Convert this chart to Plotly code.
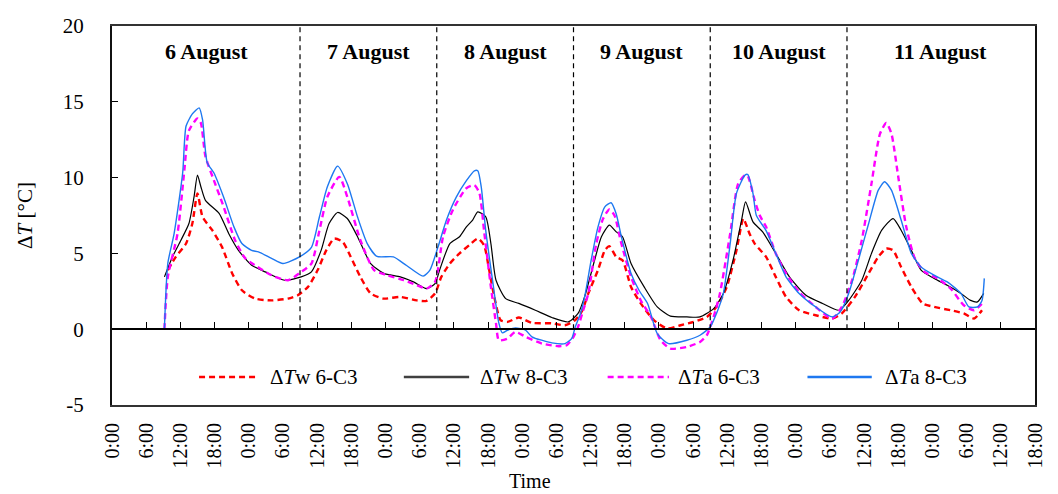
import plotly.graph_objects as go

# Hours counted from 0:00 on 5 August; each analysis day runs 9:00 -> 9:00
hours_tw6 = [9.8, 11.2, 13.0, 14.1, 15.0, 15.9, 17.6, 19.3, 21.1, 22.8, 25.1, 28.0, 30.9, 32.6, 34.4,
             36.1, 37.6, 39.0, 40.5, 41.9, 43.6, 45.4, 47.7, 50.6, 53.5, 55.2, 56.7, 57.8, 59.3, 61.0,
             62.7, 64.2, 65.3, 66.2, 67.1, 68.2, 69.4, 71.4, 73.7, 77.2, 79.5, 81.3, 82.5, 83.6, 85.3,
             86.5, 87.3, 88.5, 89.6, 91.1, 92.8, 95.1, 97.4, 99.8, 102.1, 104.4, 106.1, 107.9, 109.6,
             110.8, 111.3, 111.9, 112.8, 114.8, 116.5, 118.3, 120.6, 123.5, 126.4, 128.1, 130.4, 132.8,
             134.5, 135.9, 137.1, 138.5, 140.3, 142.3, 144.3, 147.2, 149.5, 151.3, 152.7]
dT_w_6C3 = [3.9, 4.77, 5.65, 6.97, 8.96, 7.4, 6.53, 5.43, 3.68, 2.57, 2.02, 1.9, 2.02, 2.24, 2.79,
            3.9, 5.2, 5.98, 5.76, 4.77, 3.45, 2.36, 2.02, 2.13, 1.9, 1.87, 2.36, 3.45, 4.33, 5.0,
            5.54, 5.98, 5.54, 3.9, 2.13, 0.6, 0.48, 0.77, 0.42, 0.39, 0.26, 0.6, 1.2, 2.36, 3.9,
            5.2, 5.48, 4.77, 4.55, 2.79, 1.7, 0.6, 0.05, 0.26, 0.48, 0.81, 1.47, 2.79, 5.2,
            7.3, 6.9, 6.3, 5.65, 4.77, 3.45, 2.13, 1.25, 0.92, 0.7, 1.04, 2.13, 3.68,
            4.77, 5.32, 5.2, 4.1, 2.79, 1.7, 1.47, 1.25, 1.04, 0.7, 1.25]

hours_tw8 = [9.2, 10.6, 12.1, 13.5, 14.4, 15.0, 15.6, 16.4, 18.8, 20.5, 22.2, 24.5, 26.9, 30.3, 33.2,
             35.0, 36.7, 38.1, 39.6, 41.3, 43.1, 45.4, 47.7, 50.6, 52.9, 55.2, 56.7, 57.5, 59.3, 61.0,
             62.2, 63.3, 64.2, 65.6, 66.5, 67.4, 69.1, 71.4, 74.3, 77.2, 80.1, 81.8, 83.0, 84.7, 85.9,
             87.3, 88.5, 89.6, 91.1, 93.4, 95.7, 98.0, 100.9, 103.2, 105.6, 107.3, 109.0, 110.5, 111.2,
             112.5, 114.2, 116.5, 118.9, 121.8, 124.7, 127.6, 129.3, 131.6, 133.3, 135.1, 137.1, 138.5,
             140.3, 142.0, 144.3, 146.6, 149.0, 150.7, 151.9, 153.0]
dT_w_8C3 = [3.45, 4.77, 5.87, 6.97, 8.73, 10.16, 9.4, 8.5, 7.64, 6.3, 5.2, 4.22, 3.78, 3.23, 3.45,
            3.78, 5.2, 6.97, 7.7, 7.3, 6.1, 4.33, 3.68, 3.45, 3.12, 2.68, 3.0, 3.9, 5.65, 6.1,
            6.75, 7.2, 7.74, 7.41, 5.65, 3.23, 2.02, 1.7, 1.25, 0.77, 0.48, 1.04, 2.2, 4.55, 6.1,
            6.87, 6.42, 6.1, 4.33, 2.79, 1.47, 0.86, 0.81, 0.81, 1.36, 2.36, 4.55, 7.2, 8.4,
            7.08, 6.42, 5.0, 3.45, 2.24, 1.7, 1.25, 1.9, 3.23, 5.0, 6.53, 7.3, 6.53,
            5.2, 3.9, 3.35, 2.9, 2.36, 1.9, 1.8, 2.36]

hours_ta6 = [9.2, 9.8, 11.5, 12.7, 13.5, 15.0, 15.6, 16.4, 17.9, 19.6, 21.6, 23.4, 25.1, 28.0, 30.9,
             33.2, 35.0, 36.4, 37.8, 39.9, 41.3, 43.6, 46.0, 48.3, 51.2, 53.5, 55.2, 56.7, 58.1, 59.8,
             62.2, 63.6, 64.5, 65.3, 66.5, 67.4, 67.9, 69.4, 70.8, 72.6, 75.5, 78.4, 79.8, 81.0, 81.8,
             82.7, 83.6, 85.0, 86.2, 87.3, 88.2, 89.4, 91.1, 92.8, 94.6, 96.3, 98.0, 100.9, 103.2,
             104.4, 105.6, 106.7, 108.5, 109.9, 111.1, 111.6, 112.8, 113.7, 114.8, 116.5, 118.3, 120.6,
             123.5, 126.4, 128.1, 129.9, 131.6, 133.3, 134.8, 135.9, 136.8, 138.0, 139.4, 140.9, 142.6,
             144.9, 147.2, 149.5, 151.3, 153.0]
dT_a_6C3 = [0.0, 3.45, 6.3, 10.5, 13.1, 13.9, 13.6, 11.4, 9.8, 8.07, 5.87, 4.67, 4.22, 3.56, 3.23,
            3.78, 4.33, 6.5, 8.73, 10.05, 8.73, 5.87, 3.9, 3.56, 3.23, 2.9, 2.68, 3.12, 6.1, 7.85,
            9.3, 9.5, 8.96, 6.5, 2.79, 0.38, -0.73, -0.62, -0.18, -0.5, -0.95, -1.12, -1.06, -0.5, 0.15,
            1.25, 2.36, 5.65, 7.3, 7.9, 7.5, 5.65, 3.45, 1.9, 0.81, -0.73, -1.28, -1.17, -0.84,
            -0.4, 0.81, 2.36, 6.3, 9.6, 10.16, 10.1, 8.5, 7.5, 6.75, 5.0, 3.68, 2.46,
            1.47, 0.7, 1.47, 3.23, 5.87, 9.6, 12.9, 13.6, 12.9, 10.05, 6.75, 4.67, 3.78,
            3.35, 2.68, 1.58, 1.25, 1.8]

hours_ta8 = [9.2, 9.8, 10.9, 12.4, 13.0, 14.1, 15.3, 15.9, 16.7, 17.9, 19.6, 21.4, 22.8, 24.5, 25.7,
             28.0, 30.0, 32.9, 35.0, 36.4, 37.8, 39.6, 41.3, 43.1, 44.8, 46.5, 49.4, 51.7, 54.6, 55.8,
             57.2, 58.7, 60.4, 62.2, 63.6, 64.2, 64.8, 65.6, 66.8, 67.9, 68.5, 69.4, 70.8, 72.6, 73.7,
             77.2, 79.5, 80.7, 81.3, 82.2, 83.0, 84.1, 85.3, 86.5, 87.6, 88.5, 89.4, 91.1, 92.5,
             94.0, 95.7, 97.7, 100.9, 103.2, 105.0, 106.1, 107.3, 108.5, 109.6, 111.1, 111.6, 112.5,
             113.1, 114.8, 116.5, 118.3, 120.6, 123.5, 126.4, 127.8, 129.3, 131.0, 132.8, 134.5, 135.6,
             136.8, 138.5, 140.3, 142.0, 144.3, 146.6, 149.0, 150.4, 151.9, 152.7, 153.1]
dT_a_8C3 = [0.07, 4.35, 6.3, 10.3, 13.4, 14.2, 14.6, 13.8, 11.0, 10.3, 8.7, 6.75, 5.65, 5.2, 5.1,
            4.67, 4.33, 4.77, 5.4, 7.4, 9.4, 10.76, 9.6, 7.4, 5.65, 4.8, 4.77, 4.2, 3.5, 3.9,
            5.4, 7.2, 8.7, 9.8, 10.45, 10.45, 9.4, 6.5, 3.2, 0.4, -0.24, -0.07, 0.09, -0.07, -0.5,
            -0.9, -0.95, -0.6, 0.15, 1.0, 2.2, 4.55, 6.75, 8.07, 8.34, 7.6, 6.1, 3.68, 2.57,
            1.7, -0.29, -0.95, -0.73, -0.4, 0.15, 1.04, 2.36, 5.65, 8.96, 10.16, 10.2, 8.96,
            7.5, 6.5, 5.0, 3.45, 2.36, 1.47, 0.81, 1.14, 2.36, 4.55, 6.97, 9.17, 9.73,
            9.17, 7.2, 5.0, 4.1, 3.56, 3.12, 2.36, 1.47, 1.47, 1.9, 3.35]

day_labels = ["6 August", "7 August", "8 August", "9 August", "10 August", "11 August"]
day_bounds = [0, 33, 57, 81, 105, 129, 162]          # section edges (hours)
tick_hours = list(range(0, 163, 6))
tick_text = ["0:00", "6:00", "12:00", "18:00"] * 7
y_ticks = [-5, 0, 5, 10, 15, 20]
y_tick_text = ["-5", "0", "5", "10", "15", "20"]

series = [
    ("Δ<i>T</i>w 6-C3", hours_tw6, dT_w_6C3, "#FF0000", 2.4, "6px,4px"),
    ("Δ<i>T</i>w 8-C3", hours_tw8, dT_w_8C3, "#000000", 1.2, "solid"),
    ("Δ<i>T</i>a 6-C3", hours_ta6, dT_a_6C3, "#FF00FF", 2.4, "6px,4px"),
    ("Δ<i>T</i>a 8-C3", hours_ta8, dT_a_8C3, "#1E78F0", 1.4, "solid"),
]

SERIF = "Liberation Serif, Times New Roman, serif"

# plot-area geometry in pixels (used for paper-coordinate placement)
W, H = 1058, 494
L, R, T, B = 112, 13, 26, 89
PW, PH = W - L - R, H - T - B


def px_x(p):
    return (p - L) / PW


def px_y(p):
    return (H - B - p) / PH


fig = go.Figure()
for name, xs, ys, color, width, dash in series:
    fig.add_trace(go.Scatter(
        x=xs, y=ys, mode="lines", name=name, showlegend=False,
        line=dict(color=color, width=width, dash=dash, shape="spline", smoothing=0.6),
        hoverinfo="skip",
    ))

# carrier trace for the zero-line axis
fig.add_trace(go.Scatter(x=[None], y=[None], xaxis="x2", yaxis="y", showlegend=False,
                         hoverinfo="skip"))

shapes = []
# day separators
for xb in day_bounds[1:-1]:
    shapes.append(dict(type="line", xref="x", yref="y", x0=xb, x1=xb, y0=0, y1=20,
                       line=dict(color="#000000", width=1.2, dash="5px,4px")))

annotations = []
for i, lab in enumerate(day_labels):
    annotations.append(dict(
        x=(day_bounds[i] + day_bounds[i + 1]) / 2, y=18.3, xref="x", yref="y",
        text="<b>%s</b>" % lab, showarrow=False,
        font=dict(family=SERIF, size=22, color="#000000"),
    ))

# hand-drawn legend row
legend_slots = [(200, 260, 270), (407, 473, 482), (613, 675, 682), (815, 880, 891)]
legend_y = 377
for (name, _, _, color, width, dash), (lx0, lx1, tx) in zip(series, legend_slots):
    shapes.append(dict(type="line", xref="paper", yref="paper",
                       x0=px_x(lx0), x1=px_x(lx1), y0=px_y(legend_y), y1=px_y(legend_y),
                       line=dict(color=color if color != "#000000" else "#404040",
                                 width=max(width, 2.2) if dash != "solid" else 2.4,
                                 dash=dash)))
    annotations.append(dict(x=px_x(tx), y=px_y(legend_y), xref="paper", yref="paper",
                            xanchor="left", yanchor="middle", text=name, showarrow=False,
                            font=dict(family=SERIF, size=21, color="#000000")))

annotations.append(dict(x=px_x(535), y=px_y(481), xref="paper", yref="paper",
                        xanchor="center", yanchor="middle",
                        text="Time", showarrow=False,
                        font=dict(family=SERIF, size=20, color="#000000")))

fig.update_layout(
    width=W, height=H,
    margin=dict(l=L, r=R, t=T, b=B),
    paper_bgcolor="#FFFFFF", plot_bgcolor="#FFFFFF",
    showlegend=False,
    font=dict(family=SERIF, size=20, color="#000000"),
    xaxis=dict(range=[0, 162], tickmode="array", tickvals=tick_hours, ticktext=tick_text,
               tickangle=-90, ticks="", showgrid=False, zeroline=False,
               showline=True, mirror=True, linecolor="#333333", linewidth=2,
               ticklabelstandoff=8, tickfont=dict(family=SERIF, size=20)),
    xaxis2=dict(range=[0, 162], overlaying="x", anchor="free", position=0.2,
                tickmode="array", tickvals=tick_hours, ticks="inside", ticklen=6,
                tickwidth=1.2, tickcolor="#000000", showticklabels=False,
                showgrid=False, zeroline=False, showline=True, linecolor="#000000",
                linewidth=1.5),
    yaxis=dict(range=[-5, 20], tickmode="array", tickvals=y_ticks, ticktext=y_tick_text,
               ticks="inside", ticklen=6, tickwidth=1.2,
               tickcolor="#000000", showgrid=False, zeroline=False,
               showline=True, mirror=True, linecolor="#111111", linewidth=2,
               ticklabelstandoff=22, tickfont=dict(family=SERIF, size=21),
               title=dict(text="Δ<i>T</i> [°C]", font=dict(family=SERIF, size=21), standoff=24)),
    shapes=shapes,
    annotations=annotations,
)

fig.write_html("out.html")
